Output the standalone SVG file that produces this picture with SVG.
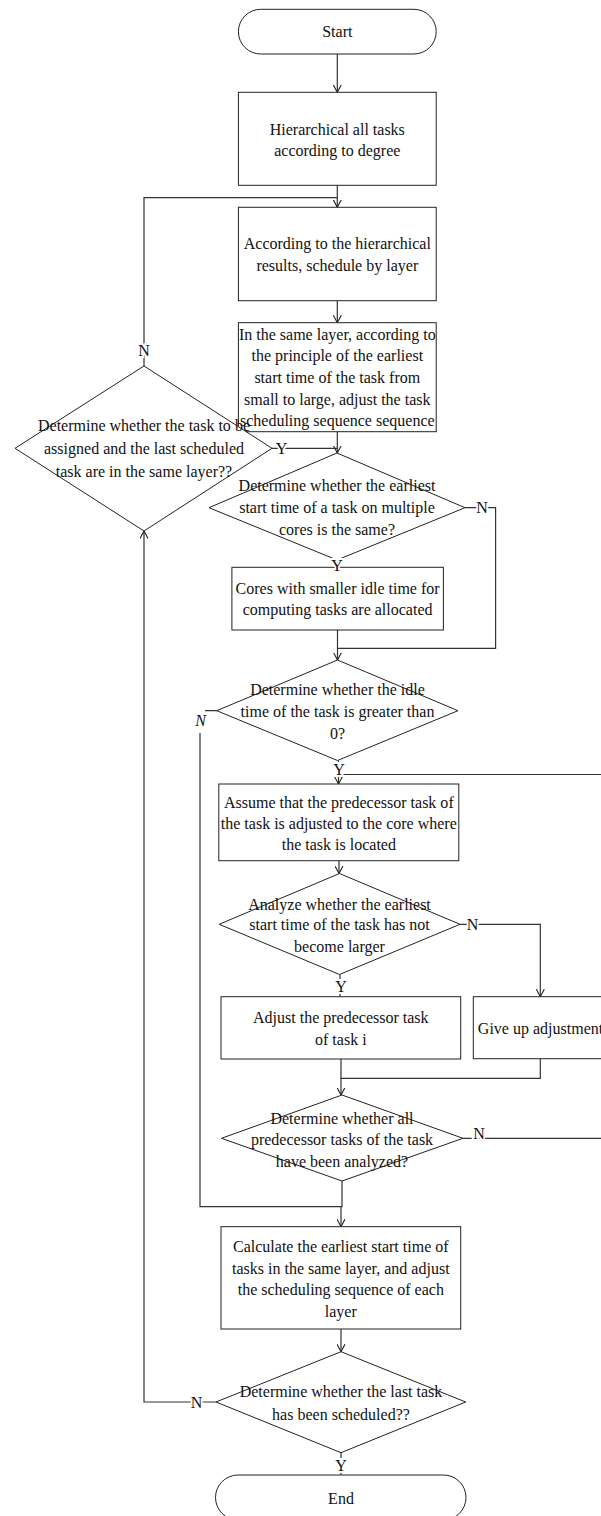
<svg xmlns="http://www.w3.org/2000/svg" width="601" height="1516" viewBox="0 0 601 1516">
<style>
.s{fill:#fff;stroke:#222;stroke-width:1}
.c{fill:none;stroke:#333;stroke-width:1.2}
.t,.l{font-family:"Liberation Serif","Times New Roman",serif;font-size:17.5px;fill:#111;text-anchor:middle;transform-box:fill-box;transform-origin:center;transform:scaleX(0.915)}
.l{stroke:#fff;stroke-width:4;paint-order:stroke}
</style>
<defs>
<marker id="a" markerUnits="userSpaceOnUse" viewBox="0 0 8 9" refX="7.5" refY="4.5" markerWidth="8" markerHeight="9" orient="auto">
<path d="M0,0.5 L7.5,4.5 L0,8.5" fill="none" stroke="#222" stroke-width="1.1"/>
</marker>
</defs>
<g id="connectors">
<path class="c" d="M337.3,54 V92.3" marker-end="url(#a)"/>
<path class="c" d="M337.3,185.3 V207.3" marker-end="url(#a)"/>
<path class="c" d="M144,366 V197.7 H337.3"/>
<path class="c" d="M337.3,300.7 V322.7" marker-end="url(#a)"/>
<path class="c" d="M337.3,431.7 V453" marker-end="url(#a)"/>
<path class="c" d="M272,448.3 H337.3"/>
<path class="c" d="M465,507.7 H495.6 V648.3 H337.5"/>
<path class="c" d="M337,560 V567.3"/>
<path class="c" d="M337.5,630 V660" marker-end="url(#a)"/>
<path class="c" d="M216.7,710.7 H205 M200,733 V1206.7 H341"/>
<path class="c" d="M338.5,760.5 V784" marker-end="url(#a)"/>
<path class="c" d="M463,1138.3 H612 V774.5 H338.5"/>
<path class="c" d="M339,860.7 V873.5" marker-end="url(#a)"/>
<path class="c" d="M460,924.3 H540.3 V996.7" marker-end="url(#a)"/>
<path class="c" d="M340,974.5 V996.7"/>
<path class="c" d="M341,1059 V1078.3 H540.3 V1058.7"/>
<path class="c" d="M341,1078.3 V1095" marker-end="url(#a)"/>
<path class="c" d="M342,1181 V1206.7 H341 V1226.7" marker-end="url(#a)"/>
<path class="c" d="M341,1329 V1351.7" marker-end="url(#a)"/>
<path class="c" d="M216,1402 H144 V531" marker-end="url(#a)"/>
<path class="c" d="M341,1452.7 V1475"/>
</g>
<g id="start">
<rect class="s" x="238.4" y="9.3" width="197.8" height="44.7" rx="22.3"/>
<text class="t" x="337.3" y="37.5">Start</text>
</g>
<g id="hierarchical">
<rect class="s" x="238.4" y="92.3" width="197.8" height="93"/>
<text class="t" x="337.3" y="135">Hierarchical all tasks</text>
<text class="t" x="337.3" y="156">according to degree</text>
</g>
<g id="schedule-by-layer">
<rect class="s" x="238.4" y="207.3" width="197.8" height="93.4"/>
<text class="t" x="337.3" y="249">According to the hierarchical</text>
<text class="t" x="337.3" y="271.5">results, schedule by layer</text>
</g>
<g id="same-layer-sequence">
<rect class="s" x="238.4" y="322.7" width="197.8" height="109"/>
<text class="t" x="337.3" y="340.5">In the same layer, according to</text>
<text class="t" x="337.3" y="361.5">the principle of the earliest</text>
<text class="t" x="337.3" y="383.5">start time of the task from</text>
<text class="t" x="337.3" y="405.5">small to large, adjust the task</text>
<text class="t" x="337.3" y="426.5">scheduling sequence sequence</text>
</g>
<g id="same-layer-decision">
<polygon class="s" points="144,366 272,448.3 144,531 15,448.3"/>
<text class="t" x="144" y="431.5">Determine whether the task to be</text>
<text class="t" x="144" y="454">assigned and the last scheduled</text>
<text class="t" x="144" y="477.5">task are in the same layer??</text>
</g>
<g id="multi-core-decision">
<polygon class="s" points="337,453 465,507.7 337,560 209,507.7"/>
<text class="t" x="337" y="491.5">Determine whether the earliest</text>
<text class="t" x="337" y="513.5">start time of a task on multiple</text>
<text class="t" x="337" y="535.5">cores is the same?</text>
</g>
<g id="allocate-cores">
<rect class="s" x="231.9" y="567.3" width="211.5" height="62.7"/>
<text class="t" x="337.6" y="594.5">Cores with smaller idle time for</text>
<text class="t" x="337.6" y="615">computing tasks are allocated</text>
</g>
<g id="idle-decision">
<polygon class="s" points="337.5,660 458,710.7 337.5,760.5 216.7,710.7"/>
<text class="t" x="337.5" y="695.5">Determine whether the idle</text>
<text class="t" x="337.5" y="717.5">time of the task is greater than</text>
<text class="t" x="337.5" y="739">0?</text>
</g>
<g id="assume-adjust">
<rect class="s" x="218.8" y="784" width="240" height="76.7"/>
<text class="t" x="338.8" y="808">Assume that the predecessor task of</text>
<text class="t" x="338.8" y="829">the task is adjusted to the core where</text>
<text class="t" x="338.8" y="850">the task is located</text>
</g>
<g id="analyze-decision">
<polygon class="s" points="339.5,873.5 460,924.3 339.5,974.5 219.2,924.3"/>
<text class="t" x="339.5" y="910">Analyze whether the earliest</text>
<text class="t" x="339.5" y="930.5">start time of the task has not</text>
<text class="t" x="339.5" y="952.5">become larger</text>
</g>
<g id="adjust-predecessor">
<rect class="s" x="221" y="996.7" width="239.7" height="62.3"/>
<text class="t" x="340.8" y="1023">Adjust the predecessor task</text>
<text class="t" x="340.8" y="1045">of task i</text>
</g>
<g id="give-up">
<rect class="s" x="473.3" y="996.7" width="140" height="62"/>
<text class="t" x="540.5" y="1034">Give up adjustment</text>
</g>
<g id="all-analyzed-decision">
<polygon class="s" points="342,1095 463,1138.3 342,1181 221.5,1138.3"/>
<text class="t" x="342" y="1124">Determine whether all</text>
<text class="t" x="342" y="1145">predecessor tasks of the task</text>
<text class="t" x="342" y="1167.5">have been analyzed?</text>
</g>
<g id="calculate">
<rect class="s" x="221" y="1226.7" width="239.7" height="102.3"/>
<text class="t" x="340.8" y="1252.5">Calculate the earliest start time of</text>
<text class="t" x="340.8" y="1274">tasks in the same layer, and adjust</text>
<text class="t" x="340.8" y="1295.5">the scheduling sequence of each</text>
<text class="t" x="340.8" y="1317.5">layer</text>
</g>
<g id="last-task-decision">
<polygon class="s" points="341,1351.7 465.7,1402 341,1452.7 216,1402"/>
<text class="t" x="341" y="1397.5">Determine whether the last task</text>
<text class="t" x="341" y="1420.5">has been scheduled??</text>
</g>
<g id="end">
<rect class="s" x="215.5" y="1475" width="250.5" height="45" rx="22.5"/>
<text class="t" x="341" y="1504">End</text>
</g>
<g id="labels">
<text class="l" x="144" y="356">N</text>
<text class="l" x="281.5" y="454">Y</text>
<text class="l" x="482" y="513.5">N</text>
<text class="l" x="337" y="571">Y</text>
<text class="l" x="200.5" y="726" font-style="italic">N</text>
<text class="l" x="339" y="775">Y</text>
<text class="l" x="472.6" y="930">N</text>
<text class="l" x="341" y="992.5">Y</text>
<text class="l" x="479" y="1139">N</text>
<text class="l" x="196.5" y="1408">N</text>
<text class="l" x="341" y="1471.5">Y</text>
</g>
</svg>
